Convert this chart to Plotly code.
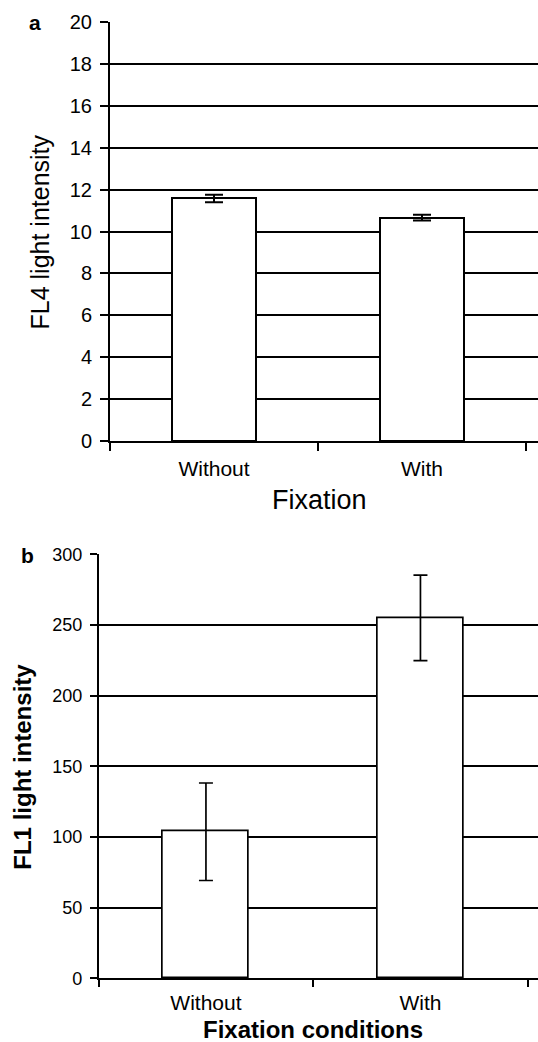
import plotly.graph_objects as go

# Panel a data
categories = ["Without", "With"]
fl4_values = [11.58, 10.66]
fl4_errors = [0.18, 0.14]
fl4_ticks = [0, 2, 4, 6, 8, 10, 12, 14, 16, 18, 20]

# Panel b data
fl1_values = [103.7, 255.0]
fl1_errors = [34.5, 30.3]
fl1_ticks = [0, 50, 100, 150, 200, 250, 300]

W, H = 538, 1042
FONT = "Liberation Sans, Arial, sans-serif"

def px(xpix):
    return xpix / W

def py(ypix):
    return 1 - ypix / H

fig = go.Figure()
xpos = list(range(len(categories)))

fig.add_trace(go.Bar(
    x=xpos, y=fl4_values, width=0.405,
    marker=dict(color="white", line=dict(color="black", width=2)),
    error_y=dict(type="data", array=fl4_errors, visible=True, color="black", thickness=2, width=9),
    xaxis="x", yaxis="y", showlegend=False,
))
fig.add_trace(go.Bar(
    x=xpos, y=fl1_values, width=0.403,
    marker=dict(color="white", line=dict(color="black", width=1.7)),
    error_y=dict(type="data", array=fl1_errors, visible=True, color="black", thickness=1.7, width=7),
    xaxis="x2", yaxis="y2", showlegend=False,
))

x1_left, x1_cat = 110, 208
x2_left, x2_cat = 98.7, 214.5
fig.update_layout(
    template="none",
    width=W, height=H, margin=dict(l=0, r=0, t=0, b=0, pad=0, autoexpand=False),
    paper_bgcolor="white", plot_bgcolor="white",
    bargap=0,
    xaxis=dict(
        domain=[px(x1_left), 1], range=[-0.5, (W - x1_left) / x1_cat - 0.5],
        tickvals=xpos, ticktext=categories, ticks="", ticklen=0,
        tickfont=dict(family=FONT, size=21, color="black"),
        ticklabelstandoff=8, automargin=False,
        showline=True, linecolor="black", linewidth=2, showgrid=False, zeroline=False,
        minor=dict(tick0=-0.5, dtick=1, ticks="outside", ticklen=8, tickwidth=2, tickcolor="black", showgrid=False),
        anchor="y",
    ),
    yaxis=dict(
        domain=[py(441), py(22)], range=[0, 20],
        tickvals=fl4_ticks, ticks="outside", ticklen=8, tickwidth=2, tickcolor="black",
        tickfont=dict(family=FONT, size=20, color="black"),
        ticklabelstandoff=4, automargin=False,
        showline=True, linecolor="black", linewidth=2,
        showgrid=True, gridcolor="black", gridwidth=2, zeroline=False,
        anchor="x",
    ),
    xaxis2=dict(
        domain=[px(x2_left), 1], range=[-0.5, (W - x2_left) / x2_cat - 0.5],
        tickvals=xpos, ticktext=categories, ticks="", ticklen=0,
        tickfont=dict(family=FONT, size=21, color="black"),
        ticklabelstandoff=5, automargin=False,
        showline=True, linecolor="black", linewidth=1.7, showgrid=False, zeroline=False,
        minor=dict(tick0=-0.5, dtick=1, ticks="outside", ticklen=7, tickwidth=1.7, tickcolor="black", showgrid=False),
        anchor="y2",
    ),
    yaxis2=dict(
        domain=[py(978.3), py(554.3)], range=[0, 300],
        tickvals=fl1_ticks, ticks="outside", ticklen=7, tickwidth=1.7, tickcolor="black",
        tickfont=dict(family=FONT, size=18, color="black"),
        ticklabelstandoff=4, automargin=False,
        showline=True, linecolor="black", linewidth=1.7,
        showgrid=True, gridcolor="black", gridwidth=1.7, zeroline=False,
        anchor="x2",
    ),
)

ann = [
    dict(text="<b>a</b>", x=px(35), y=py(23), size=21, angle=0),
    dict(text="FL4 light intensity", x=px(39), y=py(232.5), size=25, angle=-90),
    dict(text="Fixation", x=px(319), y=py(500), size=27, angle=0),
    dict(text="<b>b</b>", x=px(27), y=py(555), size=21, angle=0),
    dict(text="<b>FL1 light intensity</b>", x=px(23), y=py(766.7), size=24, angle=-90),
    dict(text="<b>Fixation conditions</b>", x=px(312.5), y=py(1029), size=24, angle=0),
]
for a in ann:
    fig.add_annotation(
        text=a["text"], x=a["x"], y=a["y"], xref="paper", yref="paper",
        xanchor="center", yanchor="middle", showarrow=False, textangle=a["angle"],
        font=dict(family=FONT, size=a["size"], color="black"),
    )

fig.write_html(
    "out.html",
    config={"displayModeBar": False},
    post_script="document.body.style.margin='0';document.body.style.overflow='hidden';",
)
